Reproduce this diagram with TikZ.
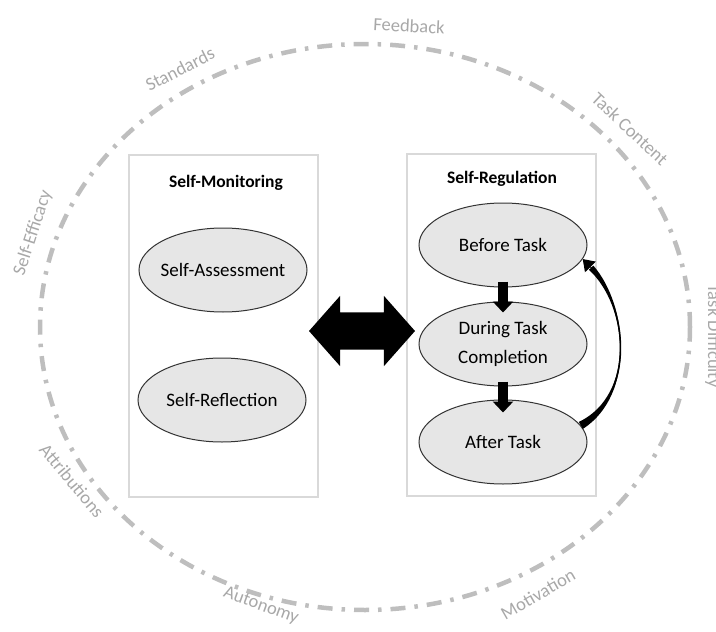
\documentclass[tikz,border=0pt]{standalone}
\usepackage{fontspec}
\setmainfont{Carlito}
\usetikzlibrary{shapes.geometric,shapes.arrows,arrows.meta}
\definecolor{ringgrey}{HTML}{BEBEBE}
\definecolor{labelgrey}{HTML}{A8A8A8}
\definecolor{boxgrey}{HTML}{D9D9D9}
\definecolor{ovalfill}{HTML}{E6E6E6}
\tikzset{
	ring/.style={ringgrey, line width=4.5pt, dash pattern=on 15pt off 9pt on 3.5pt off 9pt},
	ringlabel/.style={text=labelgrey, inner sep=0pt, font=\fontsize{18.5}{22}\selectfont},
	panel/.style={draw=boxgrey, line width=2pt, minimum width=189pt, minimum height=342pt},
	paneltitle/.style={inner sep=0pt, font=\fontsize{17.5}{21}\selectfont\bfseries},
	phase/.style={ellipse, draw=black!80, fill=ovalfill, line width=1pt, minimum width=168pt, minimum height=84pt, inner xsep=-12pt, inner ysep=0pt, align=center, font=\fontsize{19}{29}\selectfont},
	steparrow/.style={line width=10pt, -{Triangle[length=11pt,width=20pt]}},
	looptip/.style={line width=1pt, -{Triangle[length=11pt,width=15pt]}},
	bothways/.style={double arrow, fill=black, inner xsep=0pt, inner ysep=18.5pt, minimum height=106pt, double arrow head extend=16.5pt, double arrow tip angle=97}
}
\begin{document}
\begin{tikzpicture}[x=1pt,y=1pt]
			\useasboundingbox (0,0) rectangle (716,-632);
			% outer ring
			\draw[ring] (365,-327) ellipse [x radius=325, y radius=283];
			\node[ringlabel, rotate=-3] (fb) at (409,-26) {Feedback};
			\node[ringlabel, rotate=27] (std) at (180,-69) {Standards};
			\node[ringlabel, rotate=-43] (tc) at (630,-129) {Task Content};
			\node[ringlabel, rotate=72] (se) at (33,-233) {Self-Efficacy};
			\node[ringlabel, rotate=-90] (td) at (713,-336) {Task Difficulty};
			\node[ringlabel, rotate=-50] (att) at (72,-481) {Attributions};
			\node[ringlabel, rotate=-20] (aut) at (261,-606) {Autonomy};
			\node[ringlabel, rotate=30] (mot) at (538,-594) {Motivation};
			% panels
			\node[panel] (mon) at (223.5,-326) {};
			\node[panel] (reg) at (501.5,-325) {};
			\node[paneltitle] (montitle) at (226,-183) {Self-Monitoring};
			\node[paneltitle] (regtitle) at (502,-179) {Self-Regulation};
			% self-monitoring
			\node[phase] (assess) at (223,-270) {Self-Assessment};
			\node[phase] (reflect) at (222,-400) {Self-Reflection};
			% self-regulation
			\node[phase] (before) at (503,-245) {Before Task};
			\node[phase] (during) at (503,-344) {During Task\\Completion};
			\node[phase] (after) at (503,-442) {After Task};
			\draw[steparrow] ([yshift=6pt]before.south) -- ([yshift=-11pt]during.north);
			\draw[steparrow] ([yshift=5pt]during.south) -- ([yshift=-13pt]after.north);
			% loop back, thick at the ends
			\coordinate (loopbase) at ([shift={(8.4pt,-8.6pt)}]before.-10);
			\fill ([shift={(2pt,-3.5pt)}]after.12) .. controls +(52.7,34.1) and +(34.8,-40.1) .. ([shift={(2.2pt,2.1pt)}]loopbase)
				-- ([shift={(-2.2pt,-2.1pt)}]loopbase) .. controls +(39.2,-35.9) and +(56.7,27.1) .. ([shift={(-2pt,3.5pt)}]after.12) -- cycle;
			\draw[line width=1.5pt] (after.12) .. controls +(55,31) and +(37,-38) .. (loopbase);
			\draw[looptip] (loopbase) -- (before.-10);
			% link between panels
			\node[bothways] (link) at (362,-331) {};
\end{tikzpicture}
\end{document}
